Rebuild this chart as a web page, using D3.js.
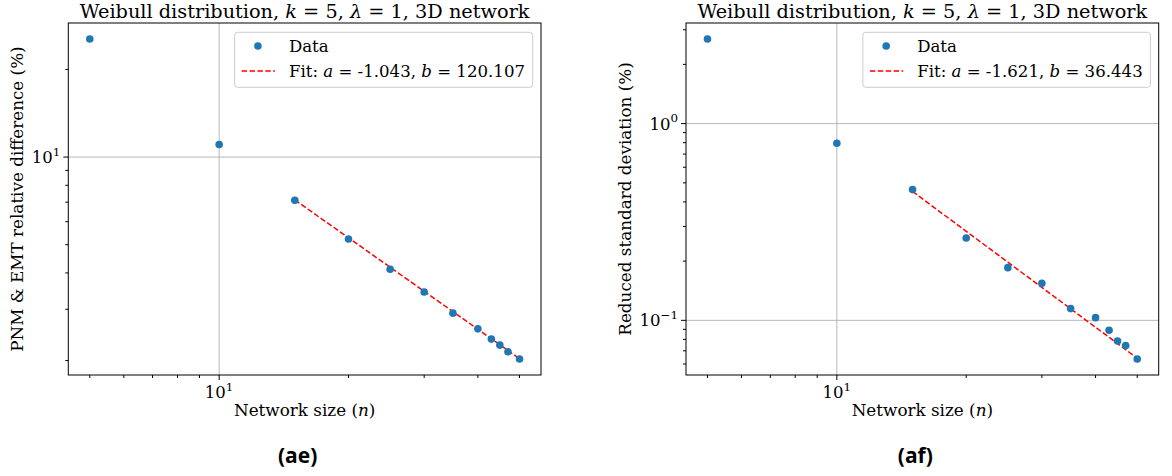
<!DOCTYPE html>
<html>
<head>
<meta charset="utf-8">
<script src="https://cdn.jsdelivr.net/npm/d3@7/dist/d3.min.js"></script>
<style>
  body { margin: 0; background: #fff; }
  svg text { font-family: "DejaVu Serif", serif; fill: #000; }
</style>
</head>
<body>
<svg id="fig" width="1172" height="476"></svg>
<script>
// Network sizes shared by both panels
const networkSize = [5, 10, 15, 20, 25, 30, 35, 40, 43, 45, 47, 50];
// PNM & EMT relative difference (%)
const relDifference = [25.44, 11.04, 7.10, 5.23, 4.12, 3.44, 2.91, 2.57, 2.37, 2.26, 2.145, 2.025];
// Reduced standard deviation (%)
const reducedStd = [2.692, 0.794, 0.4618, 0.262, 0.1853, 0.1542, 0.1147, 0.1032, 0.0890, 0.0785, 0.0744, 0.0636];
// Power-law fit y = b * n^a, fitted from n = 15 onwards
const fitA = [-1.043, -1.621];
const fitB = [120.107, 36.443];
const fitFrom = 15;
const yLabels = ["PNM & EMT relative difference (%)", "Reduced standard deviation (%)"];
const captions = ["(ae)", "(af)"];
const xLabel = "Network size (";

const svg = d3.select("#fig");
const BLUE = "#1f77b4";

// pad a log extent by 5% of its span in each direction
function padLog(ext) {
  const l0 = Math.log10(ext[0]), l1 = Math.log10(ext[1]);
  const m = (l1 - l0) * 0.05;
  return [Math.pow(10, l0 - m), Math.pow(10, l1 + m)];
}
// major (powers of ten) and minor ticks inside a log domain
function logTicks(dom) {
  const major = [], minor = [];
  const k0 = Math.floor(Math.log10(dom[0])), k1 = Math.ceil(Math.log10(dom[1]));
  for (let k = k0; k <= k1; k++) {
    for (let m = 1; m <= 9; m++) {
      const v = m * Math.pow(10, k);
      if (v < dom[0] * 0.9999 || v > dom[1] * 1.0001) continue;
      (m === 1 ? major : minor).push(v);
    }
  }
  return { major, minor };
}
function powLabel(sel, v) {
  const e = Math.round(Math.log10(v));
  sel.append("tspan").text("10");
  sel.append("tspan").attr("dy", -7.5).attr("font-size", "0.72em")
    .text(e < 0 ? "\u2212" + (-e) : String(e));
}
function mathText(sel, parts) {
  parts.forEach(p => {
    const t = sel.append("tspan").text(p[0]);
    if (p[1]) t.attr("font-style", "italic");
  });
}

const panels = [
  { left: 68.3, right: 541, top: 23, bottom: 375, values: relDifference, idx: 0, ylabX: 23 },
  { left: 686, right: 1158.7, top: 23, bottom: 375, values: reducedStd, idx: 1, ylabX: 631 }
];

panels.forEach(p => {
  const g = svg.append("g");
  const x = d3.scaleLog().domain(padLog(d3.extent(networkSize))).range([p.left, p.right]);
  const y = d3.scaleLog().domain(padLog(d3.extent(p.values))).range([p.bottom, p.top]);
  const xt = logTicks(x.domain()), yt = logTicks(y.domain());

  // grid on major ticks
  g.selectAll(".gx").data(xt.major).join("line")
    .attr("x1", d => x(d)).attr("x2", d => x(d)).attr("y1", p.top).attr("y2", p.bottom)
    .attr("stroke", "#b0b0b0").attr("stroke-width", 0.9);
  g.selectAll(".gy").data(yt.major).join("line")
    .attr("y1", d => y(d)).attr("y2", d => y(d)).attr("x1", p.left).attr("x2", p.right)
    .attr("stroke", "#b0b0b0").attr("stroke-width", 0.9);

  // fit line
  const a = fitA[p.idx], b = fitB[p.idx];
  const fitN = networkSize.filter(n => n >= fitFrom);
  g.append("path")
    .attr("d", d3.line().x(n => x(n)).y(n => y(b * Math.pow(n, a)))(fitN))
    .attr("fill", "none").attr("stroke", "red").attr("stroke-width", 1.5)
    .attr("stroke-dasharray", "5.5,2.4");

  // data points
  g.selectAll(".pt").data(networkSize).join("circle")
    .attr("cx", d => x(d)).attr("cy", (d, i) => y(p.values[i])).attr("r", 3.8)
    .attr("fill", BLUE);

  // frame
  g.append("rect").attr("x", p.left).attr("y", p.top)
    .attr("width", p.right - p.left).attr("height", p.bottom - p.top)
    .attr("fill", "none").attr("stroke", "#000").attr("stroke-width", 1);

  // x ticks
  g.selectAll(".tx").data(xt.major.map(v => [v, 5]).concat(xt.minor.map(v => [v, 3])))
    .join("line").attr("x1", d => x(d[0])).attr("x2", d => x(d[0]))
    .attr("y1", p.bottom).attr("y2", d => p.bottom + d[1]).attr("stroke", "#000").attr("stroke-width", 1);
  xt.major.forEach(v => {
    g.append("text").attr("x", x(v)).attr("y", p.bottom + 23).attr("text-anchor", "middle")
      .attr("font-size", 16.5).call(powLabel, v);
  });
  // y ticks
  g.selectAll(".ty").data(yt.major.map(v => [v, 5]).concat(yt.minor.map(v => [v, 3])))
    .join("line").attr("y1", d => y(d[0])).attr("y2", d => y(d[0]))
    .attr("x1", p.left).attr("x2", d => p.left - d[1]).attr("stroke", "#000").attr("stroke-width", 1);
  yt.major.forEach(v => {
    g.append("text").attr("x", p.left - 8).attr("y", y(v) + 6).attr("text-anchor", "end")
      .attr("font-size", 16.5).call(powLabel, v);
  });

  const cx = (p.left + p.right) / 2;
  // title
  g.append("text").attr("x", cx).attr("y", 18).attr("text-anchor", "middle").attr("font-size", 19.3)
    .call(mathText, [["Weibull distribution, "], ["k", 1], [" = 5, "], ["\u03bb", 1], [" = 1, 3D network"]]);
  // axis labels
  g.append("text").attr("x", cx).attr("y", p.bottom + 41).attr("text-anchor", "middle").attr("font-size", 16.8)
    .call(mathText, [[xLabel], ["n", 1], [")"]]);
  g.append("text").attr("transform", `translate(${p.ylabX},${(p.top + p.bottom) / 2}) rotate(-90)`)
    .attr("text-anchor", "middle").attr("font-size", 16.8).text(yLabels[p.idx]);
  // caption
  g.append("text").attr("x", cx - 7).attr("y", 463).attr("text-anchor", "middle")
    .style("font-family", "'Open Sans', sans-serif").attr("font-size", 21).attr("font-weight", "bold")
    .text(captions[p.idx]);

  // legend
  const lg = g.append("g");
  const box = lg.append("rect").attr("rx", 3).attr("fill", "#fff").attr("fill-opacity", 0.8)
    .attr("stroke", "#cccccc").attr("stroke-width", 1);
  const t1 = lg.append("text").attr("font-size", 16.6).text("Data");
  const t2 = lg.append("text").attr("font-size", 16.6)
    .call(mathText, [["Fit: "], ["a", 1], [" = " + a.toFixed(3) + ", "], ["b", 1], [" = " + b.toFixed(3)]]);
  const tw = Math.max(t1.node().getComputedTextLength(), t2.node().getComputedTextLength());
  const bw = 54.3 + tw + 7.7, bh = 55;
  const bx = p.right - 8.3 - bw, by = p.top + 9.3;
  box.attr("x", bx).attr("y", by).attr("width", bw).attr("height", bh);
  lg.append("circle").attr("cx", bx + 23.3).attr("cy", by + 13.7).attr("r", 3.8).attr("fill", BLUE);
  lg.append("line").attr("x1", bx + 7).attr("x2", bx + 40.3).attr("y1", by + 38.7).attr("y2", by + 38.7)
    .attr("stroke", "red").attr("stroke-width", 1.5).attr("stroke-dasharray", "5.5,2.4");
  t1.attr("x", bx + 54.3).attr("y", by + 19.7);
  t2.attr("x", bx + 54.3).attr("y", by + 44.7);
});
</script>
</body>
</html>
